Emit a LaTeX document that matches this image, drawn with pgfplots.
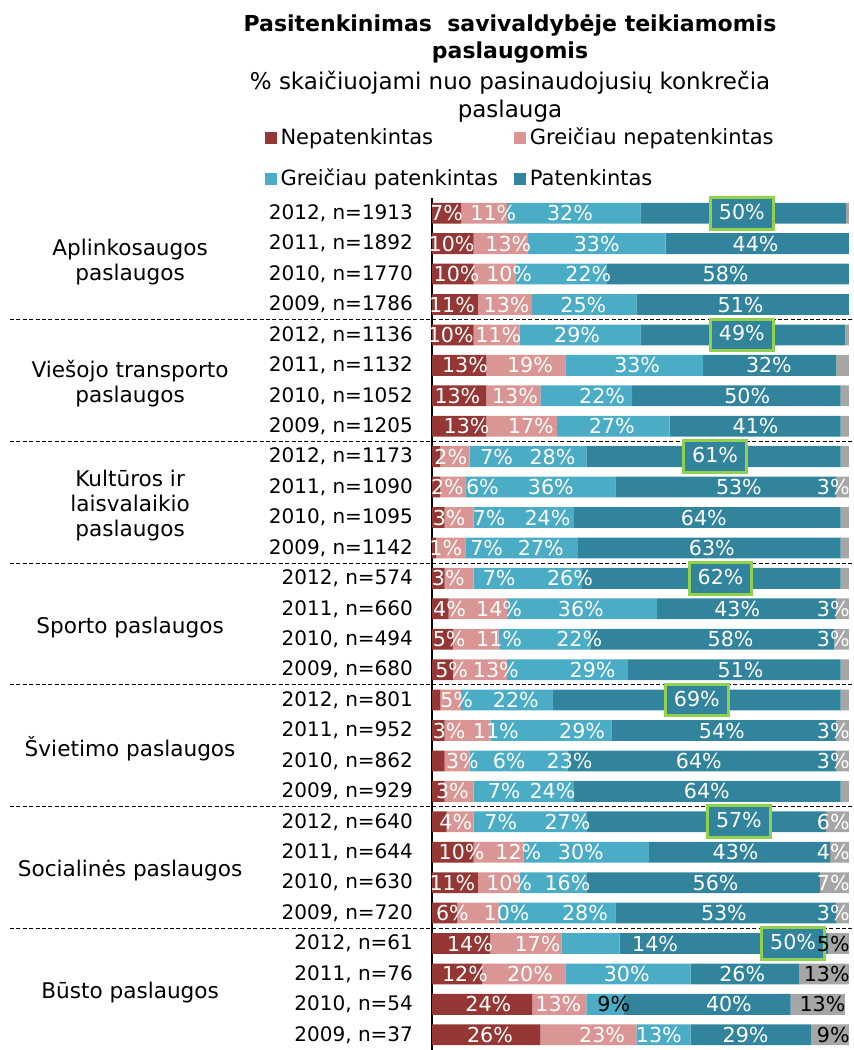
\documentclass[border=0pt]{standalone}
\usepackage{fontspec}
\setmainfont{DejaVu Sans}
\usepackage{pgfplots}
\usepackage{pgfplotstable}
\pgfplotsset{compat=1.18}

\definecolor{nep}{HTML}{953735}
\definecolor{gnep}{HTML}{D99694}
\definecolor{gpat}{HTML}{4BACC6}
\definecolor{pat}{HTML}{31849B}
\definecolor{kita}{HTML}{A6A6A6}
\definecolor{boxg}{HTML}{92D050}

\setlength{\fboxrule}{1.5pt}
\setlength{\fboxsep}{2.4pt}
\newcommand{\bx}[1]{\fcolorbox{boxg}{pat}{\makebox[25pt]{\rule[-1.8pt]{0pt}{9.6pt}#1}}}
\newcommand{\bk}[1]{\textcolor{black}{#1}}

% rows from top: 2012, 2011, 2010, 2009 for each service
% a..e = shares, la..le = printed labels, pa..pd = where the labels sit
\pgfplotstableread{
y  a    b    c    d     e    la      lb      lc      ld          le           pa    pb    pc    pd
0  7    11   32   49.3  0.7  {7\%}   {11\%}  {32\%}  {\bx{50\%}} {}           3.5   14.7  33.1  74.3
1  10   13   33   44    0    {10\%}  {13\%}  {33\%}  {44\%}      {}           4.7   18.3  39.5  77.6
2  10   10   22   58    0    {10\%}  {10\%}  {22\%}  {58\%}      {}           5.9   18.5  37.5  70.4
3  11   13   25   51    0    {11\%}  {13\%}  {25\%}  {51\%}      {}           4.8   17.9  36.3  74
4  10   11   29   49    1    {10\%}  {11\%}  {29\%}  {\bx{49\%}} {}           4.5   15.9  34.8  74.3
5  13   19   33   32    3    {13\%}  {19\%}  {33\%}  {32\%}      {}           7.9   23.5  49.2  80.8
6  13   13   22   50    2    {13\%}  {13\%}  {22\%}  {50\%}      {}           6.1   19.9  40.8  75.6
7  13   17   27   41    2    {13\%}  {17\%}  {27\%}  {41\%}      {}           8.3   23.7  43.1  77.6
8  2    7    28   61    2    {2\%}   {7\%}   {28\%}  {\bx{61\%}} {}           4.5   15.5  28.9  67.9
9  2    6    36   53    3    {2\%}   {6\%}   {36\%}  {53\%}      {3\%}        3.7   12.1  28.5  73.6
10 3    7    24   64    2    {3\%}   {7\%}   {24\%}  {64\%}      {}           4.1   13.7  27.7  65.2
11 1    7    27   63    2    {1\%}   {7\%}   {27\%}  {63\%}      {}           3.3   13.1  26.1  67.1
12 3    7    26   62    2    {3\%}   {7\%}   {26\%}  {\bx{62\%}} {}           3.9   16.1  33.1  69.2
13 4    14   36   43    3    {4\%}   {14\%}  {36\%}  {43\%}      {3\%}        4.2   16.1  35.7  73.2
14 5    11   22   58.5  3.5  {5\%}   {11\%}  {22\%}  {58\%}      {3\%}        4.1   16.1  35.3  71.6
15 5    13   29   51    2    {5\%}   {13\%}  {29\%}  {51\%}      {}           4.7   15.3  38.5  74
16 2    5    22   69    2    {}      {5\%}   {22\%}  {\bx{69\%}} {}           1     5.9   20.1  63.5
17 3    11   29   54    3    {3\%}   {11\%}  {29\%}  {54\%}      {3\%}        4.1   15.3  36    69.5
18 3    6    23.5 64.5  3    {3\%}   {6\%}   {23\%}  {64\%}      {3\%}        7.3   18.5  33    64
19 3    7    24   64    2    {3\%}   {7\%}   {24\%}  {64\%}      {}           4.9   17.3  28.9  65.9
20 3.5  6.5  27   57.5  5.5  {4\%}   {7\%}   {27\%}  {\bx{57\%}} {6\%}        5.7   16.5  32.5  73.6
21 10   12   30   43.5  4.5  {10\%}  {12\%}  {30\%}  {43\%}      {4\%}        7.1   20.7  35.7  72.8
22 11   10   16   56    7    {11\%}  {10\%}  {16\%}  {56\%}      {7\%}        4.9   18.5  32.5  68
23 6    10   28   53    3    {6\%}   {10\%}  {28\%}  {53\%}      {3\%}        4.9   17.9  36.7  70
24 14   17   14   50    5    {14\%}  {17\%}  {14\%}  {\bx{50\%}} {\bk{5\%}}   9.1   25.3  53.5  86.6
25 12   20   30   26    12   {12\%}  {20\%}  {30\%}  {26\%}      {\bk{13\%}}  7.9   23.5  46.7  74.4
26 24   13   9    40    13   {24\%}  {13\%}  {\bk{9\%}} {40\%}   {\bk{13\%}}  13.5  30.3  43.6  71.2
27 26   23   13   29    9    {26\%}  {23\%}  {13\%}  {29\%}      {\bk{9\%}}   13.9  40.8  54.4  75.2
}\svdata

\pgfplotsset{
  sq/.style={legend image code/.code={\fill[#1] (0pt,-3pt) rectangle (6pt,3pt);}},
  frame/.style={scale only axis, width=208.5pt, height=426pt,
    xmin=0, xmax=100, ymin=-0.5, ymax=27.5, y dir=reverse, clip=false},
  lab/.style={draw=none, mark=none},
}

\begin{document}
\begin{tikzpicture}
\path[use as bounding box] (-216pt,0pt) rectangle (210.5pt,525pt);
\begin{axis}[frame,
  xbar stacked, bar width=10.4pt,
  axis x line=none, axis y line*=left,
  y axis line style={-, black, line width=0.8pt},
  ytick={0,...,27}, major tick length=0pt,
  yticklabels={{2012, n=1913},{2011, n=1892},{2010, n=1770},{2009, n=1786},
    {2012, n=1136},{2011, n=1132},{2010, n=1052},{2009, n=1205},
    {2012, n=1173},{2011, n=1090},{2010, n=1095},{2009, n=1142},
    {2012, n=574},{2011, n=660},{2010, n=494},{2009, n=680},
    {2012, n=801},{2011, n=952},{2010, n=862},{2009, n=929},
    {2012, n=640},{2011, n=644},{2010, n=630},{2009, n=720},
    {2012, n=61},{2011, n=76},{2010, n=54},{2009, n=37}},
  yticklabel style={font=\fontsize{10}{12}\selectfont, xshift=-6pt},
  legend columns=2, legend cell align=left,
  legend style={at={(-0.417,1.092)}, anchor=north west, draw=none, fill=none,
    font=\fontsize{10.5}{12}\selectfont, row sep=6.5pt,
    nodes={inner xsep=2pt},
    /tikz/every even column/.append style={column sep=6pt}},
]
\addplot[fill=nep, draw=none, sq=nep] table[x=a, y=y]{\svdata};
\addlegendentry{Nepatenkintas}
\addplot[fill=gnep, draw=none, sq=gnep] table[x=b, y=y]{\svdata};
\addlegendentry{Greičiau nepatenkintas}
\addplot[fill=gpat, draw=none, sq=gpat] table[x=c, y=y]{\svdata};
\addlegendentry{Greičiau patenkintas}
\addplot[fill=pat, draw=none, sq=pat] table[x=d, y=y]{\svdata};
\addlegendentry{Patenkintas}
\addplot[fill=kita, draw=none, forget plot] table[x=e, y=y]{\svdata};

\draw[black, line width=0.6pt, dash pattern=on 2pt off 1.2pt] (axis cs:-101.2,3.5) -- (axis cs:101,3.5);
\draw[black, line width=0.6pt, dash pattern=on 2pt off 1.2pt] (axis cs:-101.2,7.5) -- (axis cs:101,7.5);
\draw[black, line width=0.6pt, dash pattern=on 2pt off 1.2pt] (axis cs:-101.2,11.5) -- (axis cs:101,11.5);
\draw[black, line width=0.6pt, dash pattern=on 2pt off 1.2pt] (axis cs:-101.2,15.5) -- (axis cs:101,15.5);
\draw[black, line width=0.6pt, dash pattern=on 2pt off 1.2pt] (axis cs:-101.2,19.5) -- (axis cs:101,19.5);
\draw[black, line width=0.6pt, dash pattern=on 2pt off 1.2pt] (axis cs:-101.2,23.5) -- (axis cs:101,23.5);

\node[align=center, font=\fontsize{10.8}{12.5}\selectfont] at (axis cs:-72.4,1.6) {Aplinkosaugos\\paslaugos};
\node[align=center, font=\fontsize{10.8}{12.5}\selectfont] at (axis cs:-72.4,5.6) {Viešojo transporto\\paslaugos};
\node[align=center, font=\fontsize{10.8}{12.5}\selectfont] at (axis cs:-72.4,9.6) {Kultūros ir\\laisvalaikio\\paslaugos};
\node[align=center, font=\fontsize{10.8}{12.5}\selectfont] at (axis cs:-72.4,13.6) {Sporto paslaugos};
\node[align=center, font=\fontsize{10.8}{12.5}\selectfont] at (axis cs:-72.4,17.6) {Švietimo paslaugos};
\node[align=center, font=\fontsize{10.8}{12.5}\selectfont] at (axis cs:-72.4,21.6) {Socialinės paslaugos};
\node[align=center, font=\fontsize{10.8}{12.5}\selectfont] at (axis cs:-72.4,25.6) {Būsto paslaugos};
\end{axis}

\begin{axis}[frame, hide axis,
  nodes near coords, point meta=explicit symbolic,
  nodes near coords align={center},
  every node near coord/.style={anchor=center, text=white, inner sep=0pt,
    font=\fontsize{10.3}{12}\selectfont},
]
\addplot[lab] table[x=pa, y=y, meta=la]{\svdata};
\addplot[lab] table[x=pb, y=y, meta=lb]{\svdata};
\addplot[lab] table[x=pc, y=y, meta=lc]{\svdata};
\addplot[lab] table[x=pd, y=y, meta=ld]{\svdata};
\addplot[lab, nodes near coords align={west},
  every node near coord/.append style={anchor=east, xshift=0.5pt}]
  table[x expr=\thisrow{a}+\thisrow{b}+\thisrow{c}+\thisrow{d}+\thisrow{e}, y=y, meta=le]{\svdata};
\end{axis}

\node[font=\bfseries\fontsize{11}{13}\selectfont] at (39pt,512pt) {Pasitenkinimas\ \ savivaldybėje teikiamomis};
\node[font=\bfseries\fontsize{11}{13}\selectfont] at (39pt,498.5pt) {paslaugomis};
\node[font=\fontsize{11.5}{13}\selectfont] at (39pt,483.5pt) {\% skaičiuojami nuo pasinaudojusių konkrečia};
\node[font=\fontsize{11.5}{13}\selectfont] at (39pt,469.5pt) {paslauga};
\end{tikzpicture}
\end{document}
